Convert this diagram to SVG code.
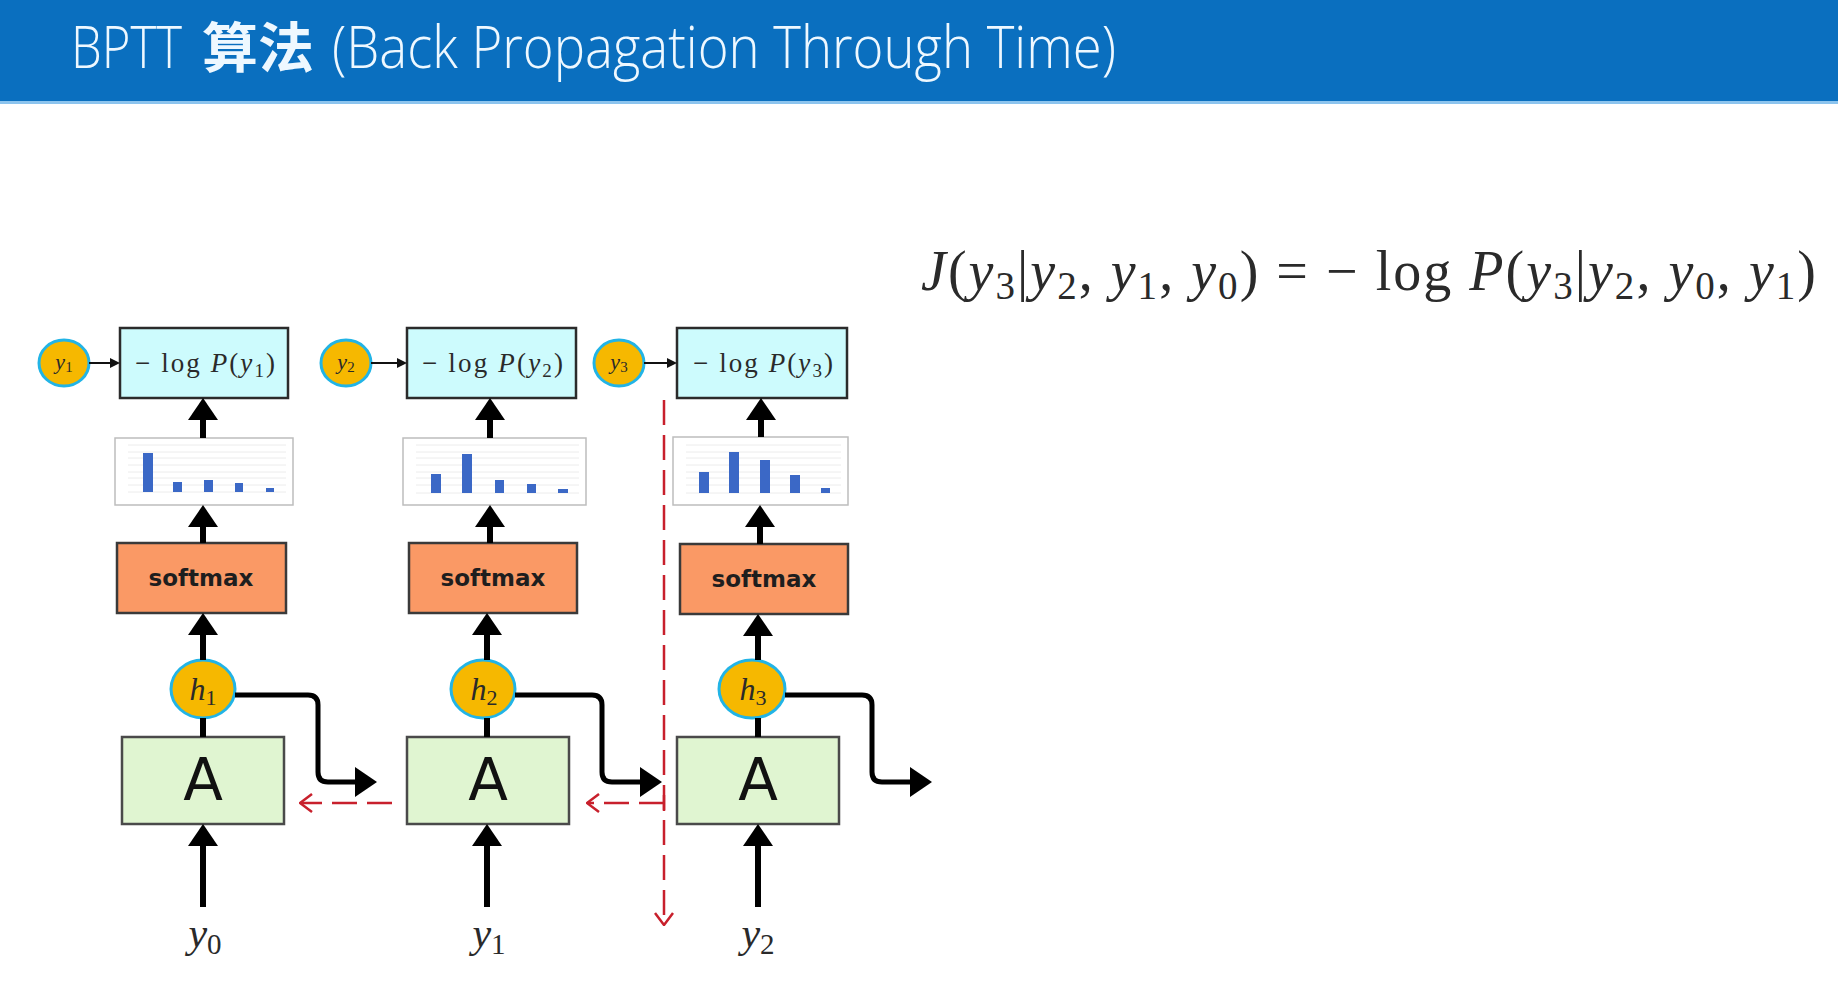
<svg xmlns="http://www.w3.org/2000/svg" width="1838" height="994" viewBox="0 0 1838 994">
<defs>
<style>
.hdr{fill:#0a6fbf}
.title{font-family:"Open Sans","Noto Sans CJK SC",sans-serif;font-weight:300;font-size:58px;fill:#eef8ff}
.cjk{font-family:"Noto Sans CJK SC",sans-serif;font-weight:bold;font-size:54px;fill:#eef8ff}
.loss{fill:#cdfbfd;stroke:#2b2b2b;stroke-width:2.5}
.chart{fill:#fff;stroke:#bdbdbd;stroke-width:1.5}
.grid{stroke:#ececec;stroke-width:1}
.bar{fill:#3b68c6}
.soft{fill:#fa9965;stroke:#3a3a3a;stroke-width:2.5}
.cell{fill:#e0f5d1;stroke:#4a4a4a;stroke-width:2.5}
.hid{fill:#f6b800;stroke:#22b4e6;stroke-width:3}
.yc{fill:#f6b800;stroke:#22b4e6;stroke-width:3}
.math{font-family:"Liberation Serif","DejaVu Serif",serif;fill:#2a2a2a}
.it{font-style:italic}
.sm{font-family:"DejaVu Sans","Liberation Sans",sans-serif;font-weight:bold;font-size:23px;fill:#1e1e1e}
.A{font-family:"DejaVu Sans","Liberation Sans",sans-serif;font-size:58px;fill:#111}
.blk{stroke:#000;stroke-width:6;fill:none}
.elb{stroke:#000;stroke-width:5;fill:none;stroke-linejoin:round}
.thin{stroke:#111;stroke-width:2;fill:none}
.red{stroke:#c8202c;stroke-width:2.5;fill:none;stroke-dasharray:25 10}
</style>
<marker id="ah" viewBox="0 0 22 30" refX="0" refY="15" markerWidth="22" markerHeight="30" markerUnits="userSpaceOnUse" orient="auto"><path d="M0,0 L22,15 L0,30 z" fill="#000"/></marker>
<marker id="ahs" viewBox="0 0 10 10" refX="0" refY="5" markerWidth="10" markerHeight="10" markerUnits="userSpaceOnUse" orient="auto"><path d="M0,0 L10,5 L0,10 z" fill="#111"/></marker>
<marker id="rh" viewBox="0 0 14 20" refX="13" refY="10" markerWidth="14" markerHeight="20" markerUnits="userSpaceOnUse" orient="auto"><path d="M1,1 L13,10 L1,19" fill="none" stroke="#c8202c" stroke-width="2.5"/></marker>
</defs>
<rect width="1838" height="994" fill="#fff"/>
<g id="header">
<rect class="hdr" x="0" y="0" width="1838" height="101"/>
<rect x="0" y="101" width="1838" height="3" fill="#8cc4ee"/>
<text class="title" x="71" y="68" textLength="111" lengthAdjust="spacingAndGlyphs">BPTT</text>
<text class="cjk" x="202" y="68" textLength="112" lengthAdjust="spacingAndGlyphs">算法</text>
<text class="title" x="332" y="68" textLength="784" lengthAdjust="spacingAndGlyphs">(Back Propagation Through Time)</text>
</g>
<g id="equation">
<text class="math" x="921" y="290" font-size="56" textLength="895" lengthAdjust="spacing"><tspan class="it">J</tspan>(<tspan class="it">y</tspan><tspan font-size="39" dy="9">3</tspan><tspan dy="-9">|</tspan><tspan class="it">y</tspan><tspan font-size="39" dy="9">2</tspan><tspan dy="-9">, </tspan><tspan class="it">y</tspan><tspan font-size="39" dy="9">1</tspan><tspan dy="-9">, </tspan><tspan class="it">y</tspan><tspan font-size="39" dy="9">0</tspan><tspan dy="-9">) = − log </tspan><tspan class="it">P</tspan>(<tspan class="it">y</tspan><tspan font-size="39" dy="9">3</tspan><tspan dy="-9">|</tspan><tspan class="it">y</tspan><tspan font-size="39" dy="9">2</tspan><tspan dy="-9">, </tspan><tspan class="it">y</tspan><tspan font-size="39" dy="9">0</tspan><tspan dy="-9">, </tspan><tspan class="it">y</tspan><tspan font-size="39" dy="9">1</tspan><tspan dy="-9">)</tspan></text>
</g>
<!-- column 1 -->
<g id="y1c"><ellipse class="yc" cx="64" cy="363" rx="25" ry="23"/><text class="math" x="64" y="369" font-size="22" text-anchor="middle" fill="#4a4430"><tspan class="it">y</tspan><tspan font-size="15" dy="3">1</tspan></text></g>
<g id="loss1"><rect class="loss" x="120" y="328" width="168" height="70"/><text class="math" x="135" y="372" font-size="27" textLength="140" lengthAdjust="spacing" fill="#4a4a4a">− log <tspan class="it">P</tspan>(<tspan class="it">y</tspan><tspan font-size="19" dy="5">1</tspan><tspan dy="-5">)</tspan></text></g>
<g id="chart1"><rect class="chart" x="115" y="438" width="178" height="67"/>
<path class="grid" d="M128 445H286M128 452H286M128 458H286M128 465H286M128 472H286M128 478H286M128 485H286M128 492H286"/>
<rect class="bar" x="143" y="453" width="10" height="39"/><rect class="bar" x="173" y="482" width="9" height="10"/><rect class="bar" x="204" y="480" width="9" height="12"/><rect class="bar" x="235" y="483" width="8" height="9"/><rect class="bar" x="266" y="488" width="8" height="4"/></g>
<g id="softmax1"><rect class="soft" x="117" y="543" width="169" height="70"/><text class="sm" x="201" y="586" text-anchor="middle">softmax</text></g>
<g id="h1"><ellipse class="hid" cx="203" cy="689" rx="32" ry="29"/><text class="math" x="203" y="700" font-size="32" text-anchor="middle" fill="#333"><tspan class="it">h</tspan><tspan font-size="22" dy="5">1</tspan></text></g>
<g id="A1"><rect class="cell" x="122" y="737" width="162" height="87"/><text class="A" x="203" y="800" text-anchor="middle">A</text></g>
<g id="x0"><text class="math" x="205" y="947" font-size="42" text-anchor="middle" fill="#333"><tspan class="it">y</tspan><tspan font-size="29" dy="7">0</tspan></text></g>
<!-- column 2 -->
<g id="y2c"><ellipse class="yc" cx="346" cy="363" rx="25" ry="23"/><text class="math" x="346" y="369" font-size="22" text-anchor="middle" fill="#4a4430"><tspan class="it">y</tspan><tspan font-size="15" dy="3">2</tspan></text></g>
<g id="loss2"><rect class="loss" x="407" y="328" width="169" height="70"/><text class="math" x="422" y="372" font-size="27" textLength="141" lengthAdjust="spacing" fill="#4a4a4a">− log <tspan class="it">P</tspan>(<tspan class="it">y</tspan><tspan font-size="19" dy="5">2</tspan><tspan dy="-5">)</tspan></text></g>
<g id="chart2"><rect class="chart" x="403" y="438" width="183" height="67"/>
<path class="grid" d="M416 445H579M416 452H579M416 458H579M416 465H579M416 472H579M416 478H579M416 485H579M416 493H579"/>
<rect class="bar" x="431" y="474" width="10" height="19"/><rect class="bar" x="462" y="454" width="10" height="39"/><rect class="bar" x="495" y="480" width="9" height="13"/><rect class="bar" x="527" y="484" width="9" height="9"/><rect class="bar" x="558" y="489" width="10" height="4"/></g>
<g id="softmax2"><rect class="soft" x="409" y="543" width="168" height="70"/><text class="sm" x="493" y="586" text-anchor="middle">softmax</text></g>
<g id="h2"><ellipse class="hid" cx="483" cy="689" rx="32" ry="29"/><text class="math" x="484" y="700" font-size="32" text-anchor="middle" fill="#333"><tspan class="it">h</tspan><tspan font-size="22" dy="5">2</tspan></text></g>
<g id="A2"><rect class="cell" x="407" y="737" width="162" height="87"/><text class="A" x="488" y="800" text-anchor="middle">A</text></g>
<g id="x1"><text class="math" x="489" y="947" font-size="42" text-anchor="middle" fill="#333"><tspan class="it">y</tspan><tspan font-size="29" dy="7">1</tspan></text></g>
<!-- column 3 -->
<g id="y3c"><ellipse class="yc" cx="619" cy="363" rx="25" ry="23"/><text class="math" x="619" y="369" font-size="22" text-anchor="middle" fill="#4a4430"><tspan class="it">y</tspan><tspan font-size="15" dy="3">3</tspan></text></g>
<g id="loss3"><rect class="loss" x="677" y="328" width="170" height="70"/><text class="math" x="693" y="372" font-size="27" textLength="140" lengthAdjust="spacing" fill="#4a4a4a">− log <tspan class="it">P</tspan>(<tspan class="it">y</tspan><tspan font-size="19" dy="5">3</tspan><tspan dy="-5">)</tspan></text></g>
<g id="chart3"><rect class="chart" x="673" y="437" width="175" height="68"/>
<path class="grid" d="M686 445H841M686 452H841M686 458H841M686 465H841M686 472H841M686 478H841M686 485H841M686 493H841"/>
<rect class="bar" x="699" y="472" width="10" height="21"/><rect class="bar" x="729" y="452" width="10" height="41"/><rect class="bar" x="760" y="460" width="10" height="33"/><rect class="bar" x="790" y="475" width="10" height="18"/><rect class="bar" x="821" y="488" width="9" height="5"/></g>
<g id="softmax3"><rect class="soft" x="680" y="544" width="168" height="70"/><text class="sm" x="764" y="587" text-anchor="middle">softmax</text></g>
<g id="h3"><ellipse class="hid" cx="752" cy="689" rx="33" ry="29"/><text class="math" x="753" y="700" font-size="32" text-anchor="middle" fill="#333"><tspan class="it">h</tspan><tspan font-size="22" dy="5">3</tspan></text></g>
<g id="A3"><rect class="cell" x="677" y="737" width="162" height="87"/><text class="A" x="758" y="800" text-anchor="middle">A</text></g>
<g id="x2"><text class="math" x="758" y="947" font-size="42" text-anchor="middle" fill="#333"><tspan class="it">y</tspan><tspan font-size="29" dy="7">2</tspan></text></g>
<g id="connectors">
<path class="thin" d="M89 363H110" marker-end="url(#ahs)"/>
<path class="thin" d="M371 363H397" marker-end="url(#ahs)"/>
<path class="thin" d="M644 363H667" marker-end="url(#ahs)"/>
<path class="blk" d="M203 438V420" marker-end="url(#ah)"/>
<path class="blk" d="M203 543V527" marker-end="url(#ah)"/>
<path class="blk" d="M203 660V635" marker-end="url(#ah)"/>
<path class="blk" d="M203 718V737" stroke-width="5"/>
<path class="blk" d="M203 907V846" marker-end="url(#ah)"/>
<path class="blk" d="M490 438V420" marker-end="url(#ah)"/>
<path class="blk" d="M490 543V527" marker-end="url(#ah)"/>
<path class="blk" d="M487 660V635" marker-end="url(#ah)"/>
<path class="blk" d="M487 718V737" stroke-width="5"/>
<path class="blk" d="M487 907V846" marker-end="url(#ah)"/>
<path class="blk" d="M761 437V420" marker-end="url(#ah)"/>
<path class="blk" d="M760 544V527" marker-end="url(#ah)"/>
<path class="blk" d="M758 660V636" marker-end="url(#ah)"/>
<path class="blk" d="M758 718V737" stroke-width="5"/>
<path class="blk" d="M758 907V846" marker-end="url(#ah)"/>
<path class="elb" d="M235 695H308Q318 695 318 705V772Q318 782 328 782H355" marker-end="url(#ah)"/>
<path class="elb" d="M515 695H592Q602 695 602 705V772Q602 782 612 782H640" marker-end="url(#ah)"/>
<path class="elb" d="M785 695H862Q872 695 872 705V772Q872 782 882 782H910" marker-end="url(#ah)"/>
<path class="red" d="M392 803H300" marker-end="url(#rh)"/>
<path class="red" d="M664 803H587" marker-end="url(#rh)"/>
<path d="M664 795V811" stroke="#c8202c" stroke-width="2.5"/>
<path class="red" d="M664 400V925" marker-end="url(#rh)"/>
</g>
</svg>
